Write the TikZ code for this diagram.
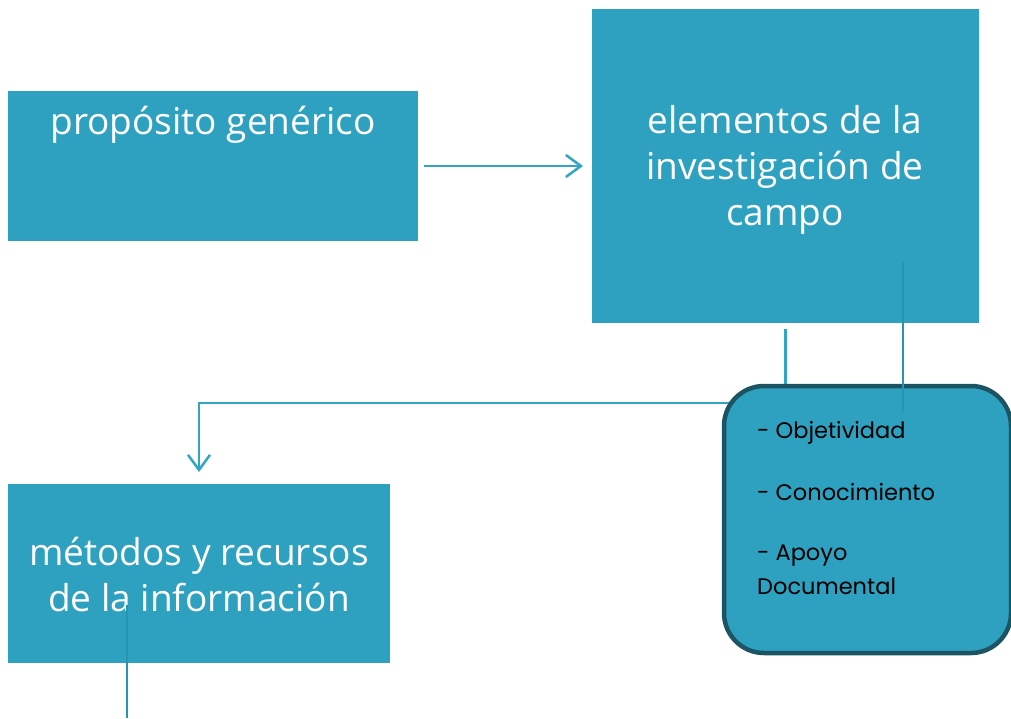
\documentclass[tikz,border=0pt]{standalone}
\usepackage{fontspec}
\setmainfont{Open Sans}
\newfontfamily\listfont{Poppins}
\usetikzlibrary{arrows.meta,backgrounds}
\definecolor{teal1}{RGB}{45,161,191}
\definecolor{dark1}{RGB}{28,84,99}
\definecolor{line1}{RGB}{50,164,196}
\definecolor{line2}{RGB}{38,148,178}
\tikzset{
  box/.style={fill=teal1, draw=none, inner sep=0pt, outer sep=0pt, anchor=north west},
  boxtext/.style={text=white, font=\fontsize{37}{46}\selectfont, align=center, inner sep=0pt},
  conn/.style={draw=line1, line width=2.5pt},
  thinconn/.style={draw=line2, line width=1.5pt},
  tipend/.style={-{Straight Barb[length=15pt,width=22pt]}},
}
\begin{document}
\begin{tikzpicture}[x=1pt,y=-1pt]
\useasboundingbox (0,0) rectangle (1011,718);
\node[box, minimum width=410pt, minimum height=150pt] (A) at (8,91) {};
\node[box, minimum width=387pt, minimum height=314pt] (B) at (592,9) {};
\node[box, minimum width=382pt, minimum height=179pt] (C) at (8,484) {};
\node[draw=dark1, line width=4.5pt, fill=teal1, rounded corners=40pt, inner sep=0pt, outer sep=0pt,
      minimum width=287pt, minimum height=267pt, anchor=north west] (D) at (724,386) {};
\node[boxtext] (At) at (213,125) {propósito genérico};
\node[boxtext] (Bt) at (785,170) {elementos de la\\investigación de\\campo};
\node[boxtext] (Ct) at (199,574) {métodos y recursos\\de la información};
\node[anchor=north west, inner sep=0pt, align=left, text=black,
      font=\listfont\fontsize{22.5}{34}\selectfont] (Dt) at (757,421)
  {- Objetividad\\[28pt]- Conocimiento\\[26pt]- Apoyo\\Documental};
\coordinate (turn) at (199,403);
\coordinate (bl1) at (903,261);
\coordinate (bl2) at (903,412);
\coordinate (cl1) at (127,605);
\coordinate (cl2) at (127,718);
\begin{scope}[on background layer]
  \draw[conn] ([yshift=-6pt]B.south) -- (B.south |- D.north);
  \draw[conn, tipend] (D.center |- turn) -- (turn) -- ([yshift=12pt]C.north);
\end{scope}
\draw[conn, tipend] ([xshift=6pt]A.east) -- ([xshift=-9pt]B.west);
\draw[thinconn] (bl1) -- (bl2);
\draw[thinconn] (cl1) -- (cl2);
\end{tikzpicture}
\end{document}
